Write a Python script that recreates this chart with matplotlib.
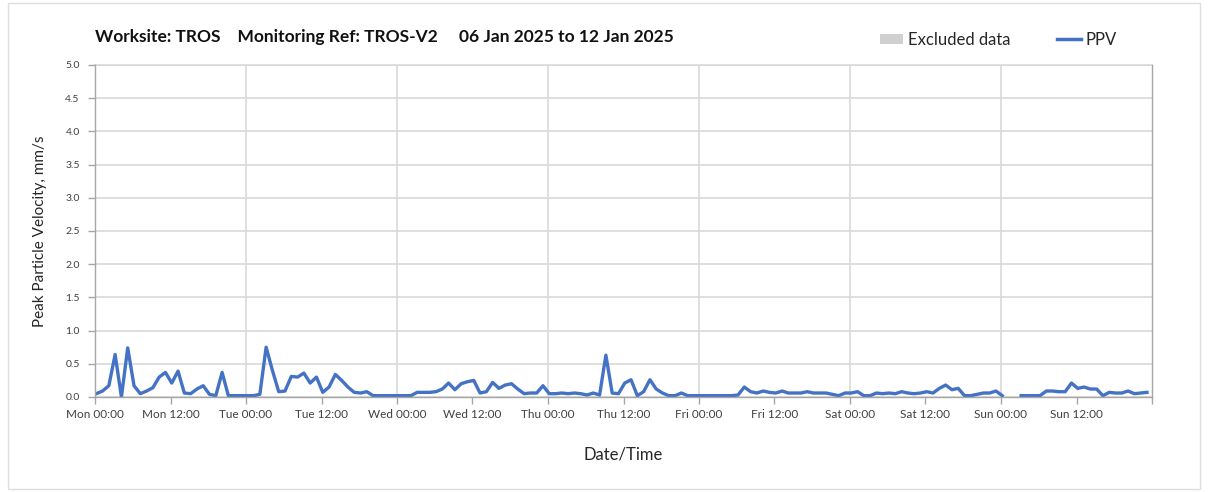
"""
PPV monitoring chart, TROS-V2, one week
"""
import numpy as np
import matplotlib
matplotlib.use("Agg")
import matplotlib.pyplot as plt
from matplotlib.patches import Patch, Rectangle
from matplotlib.lines import Line2D

plt.rcParams['font.family'] = ['Lato', 'DejaVu Sans']

# hourly PPV readings (mm/s), Mon 06 Jan 00:00 onwards; nan = no data
ppv = [
    # Mon
    0.05, 0.09, 0.17, 0.64, 0.00, 0.74, 0.17, 0.05, 0.09, 0.14, 0.30, 0.37,
    0.21, 0.39, 0.06, 0.05, 0.12, 0.17, 0.04, 0.02, 0.37, 0.02, 0.02, 0.02,
    # Tue
    0.02, 0.02, 0.04, 0.75, 0.40, 0.08, 0.09, 0.31, 0.30, 0.36, 0.21, 0.30,
    0.07, 0.15, 0.34, 0.25, 0.15, 0.07, 0.06, 0.08, 0.02, 0.02, 0.02, 0.02,
    # Wed
    0.02, 0.02, 0.02, 0.07, 0.07, 0.07, 0.08, 0.12, 0.21, 0.11, 0.20, 0.23,
    0.25, 0.06, 0.08, 0.22, 0.13, 0.18, 0.20, 0.12, 0.05, 0.06, 0.06, 0.17,
    # Thu
    0.05, 0.05, 0.06, 0.05, 0.06, 0.05, 0.03, 0.06, 0.03, 0.63, 0.06, 0.05,
    0.21, 0.26, 0.02, 0.08, 0.26, 0.12, 0.06, 0.02, 0.02, 0.06, 0.02, 0.02,
    # Fri
    0.02, 0.02, 0.02, 0.02, 0.02, 0.02, 0.03, 0.15, 0.08, 0.06, 0.09, 0.07,
    0.06, 0.09, 0.06, 0.06, 0.06, 0.08, 0.06, 0.06, 0.06, 0.04, 0.02, 0.06,
    # Sat
    0.06, 0.08, 0.02, 0.02, 0.06, 0.05, 0.06, 0.05, 0.08, 0.06, 0.05, 0.06,
    0.08, 0.06, 0.13, 0.18, 0.11, 0.13, 0.02, 0.02, 0.04, 0.06, 0.06, 0.09,
    # Sun
    0.02, np.nan, np.nan, 0.02, 0.02, 0.02, 0.02, 0.09, 0.09, 0.08, 0.08, 0.21,
    0.13, 0.15, 0.12, 0.12, 0.02, 0.07, 0.06, 0.06, 0.09, 0.05, 0.06, 0.07,
]
hours = np.arange(len(ppv)) + 0.2   # readings at ~00:12 past each hour

days = ["Mon", "Tue", "Wed", "Thu", "Fri", "Sat", "Sun"]
tick_labels = [f"{d} {t}" for d in days for t in ("00:00", "12:00")] + [""]

blue = "#4472C4"
grid = "#d9d9d9"
axcol = "#a6a6a6"

fig = plt.figure(figsize=(12.08, 4.92), dpi=100)
ax = fig.add_axes([95/1208, 1 - 397/492, 1057/1208, 332/492])

# outer frame
fig.patches.append(Rectangle((8/1208, 3/492), 1192/1208, 486/492,
                             transform=fig.transFigure, fill=False,
                             edgecolor="#dedede", lw=1))

ax.plot(hours, ppv, color=blue, lw=2.4, solid_joinstyle='round')

ax.set_xlim(0, 168)
ax.set_ylim(0, 5)
ax.set_yticks(np.arange(0, 5.01, 0.5))
ax.set_yticklabels([f"{v:.1f}" for v in np.arange(0, 5.01, 0.5)],
                   fontsize=7.5, color="#404040")
ax.set_xticks(np.arange(0, 169, 12))
ax.set_xticklabels(tick_labels, fontsize=8.5, color="#404040")
ax.tick_params(axis='both', length=5, color=axcol, width=1)
ax.tick_params(axis='y', pad=6)

ax.yaxis.grid(True, color=grid, lw=1.2)
for d in range(1, 7):
    ax.axvline(d * 24, color=grid, lw=1.2, zorder=0)
ax.set_axisbelow(True)

for s in ["left", "bottom", "right"]:
    ax.spines[s].set_color(axcol)
    ax.spines[s].set_linewidth(1)
ax.spines["top"].set_visible(False)
ax.axhline(5, color=grid, lw=1.2, zorder=0, clip_on=False)

ax.set_ylabel("Peak Particle Velocity, mm/s", fontsize=11, color="#262626", labelpad=13)
ax.set_xlabel("Date/Time", fontsize=12, color="#262626", labelpad=19)

fig.text(95/1208, 1 - 37/492, "Worksite: TROS    Monitoring Ref: TROS-V2     06 Jan 2025 to 12 Jan 2025",
         fontsize=12.5, fontweight='bold', va='center', ha='left', color="#111111")

handles = [Patch(facecolor="#d0d0d0", edgecolor="none", label="Excluded data"),
           Line2D([], [], color=blue, lw=2.5, label="PPV")]
lg = fig.legend(handles=handles, loc='center right', bbox_to_anchor=(1132/1208, 1 - 40/492),
                ncol=2, frameon=False, fontsize=12, handlelength=1.4, handleheight=0.6,
                handletextpad=0.3, columnspacing=2.8)
for t in lg.get_texts():
    t.set_color("#262626")

fig.savefig("out.png", dpi=100)
